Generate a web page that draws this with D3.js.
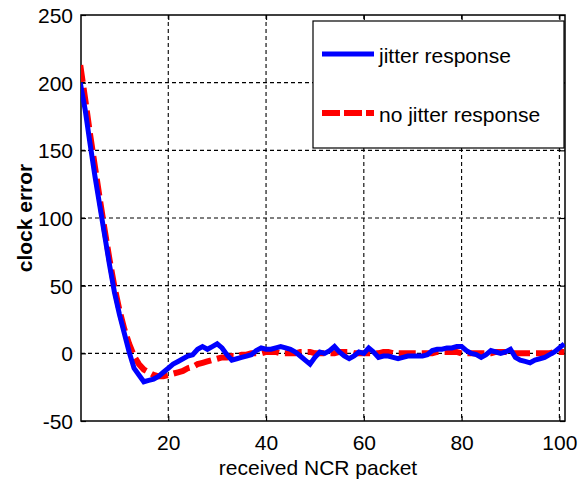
<!DOCTYPE html>
<html>
<head>
<meta charset="utf-8">
<script src="https://cdn.jsdelivr.net/npm/d3@7"></script>
<style>
  body { margin: 0; background: #fff; }
  text { font-family: Arial, "Liberation Sans", sans-serif; fill: #000; }
  .grid line { stroke: #000; stroke-width: 1.1; stroke-dasharray: 4,3; }
</style>
</head>
<body>
<div id="chart"></div>
<script>
// received NCR packet index
let packets = d3.range(2, 102);

let jitterResponse = [
    200, 180, 155, 131, 109, 87, 65, 45, 29, 15,
    1, -11, -16, -21, -20, -19, -17, -14, -11, -8,
    -6, -4, -2, -1, 3, 5, 3, 5, 7, 4,
    -1, -5, -4, -3, -2, -1, 2, 4, 3, 3,
    4, 5, 4, 3, 1, -2, -5, -8, -3, 1,
    0, 2, 5, 1, -2, -4, -2, 1, 0, 4,
    1, -3, -2, -2, -3, -4, -3, -2, -2, -2,
    -2, -1, 2, 3, 3, 4, 4, 5, 5, 2,
    0, -1, -3, -1, 2, 1, 0, 1, 3, -3,
    -5, -6, -7, -5, -4, -3, -1, 1, 4, 7
];

let noJitterResponse = [
    213, 188, 162, 138, 114, 91, 69, 49, 32, 18,
    7, -2, -8, -12, -14, -16, -17, -17, -16, -15,
    -14, -13, -11, -10, -8, -7, -6, -5, -4, -3,
    -3, -2, -2, -1, -1, 0,
    0, 0, 1, 1, 1, 0, 0, 0,
    0, 1, 1, 1, 0, 0, 0, 0,
    0, 1, 1, 1, 0, 0, 0, 0,
    0, 0, 1, 1, 0, 0, 0, 0,
    0, 0, 0, 0, 0, 1, 1, 1,
    1, 1, 0, 0, 0, 0, 0, 0,
    0, 1, 1, 1, 0, 0, 0, 0,
    0, 0, 0, 0, 0, 1, 1, 1
];

let xTicks = [20, 40, 60, 80, 100];
let yTicks = [-50, 0, 50, 100, 150, 200, 250];
let legendLabels = ['jitter response', 'no jitter response'];

const width = 584, height = 484;
const box = { left: 81, right: 565, top: 15, bottom: 421 };

let svg = d3.select('#chart').append('svg')
    .attr('width', width)
    .attr('height', height);

let xScale = d3.scaleLinear().domain([2.15, 101.15]).range([box.left, box.right]);
let yScale = d3.scaleLinear().domain([-50, 250]).range([box.bottom, box.top]);

svg.append('defs').append('clipPath')
    .attr('id', 'plot-clip')
    .append('rect')
    .attr('x', box.left)
    .attr('y', box.top)
    .attr('width', box.right - box.left)
    .attr('height', box.bottom - box.top);

// dashed grid
let grid = svg.append('g').attr('class', 'grid');
grid.selectAll('.gx')
    .data(xTicks)
    .join('line')
    .attr('class', 'gx')
    .attr('x1', d => xScale(d)).attr('x2', d => xScale(d))
    .attr('y1', box.top).attr('y2', box.bottom);
grid.selectAll('.gy')
    .data(yTicks.filter(d => d > -50 && d < 250))
    .join('line')
    .attr('class', 'gy')
    .attr('x1', box.left).attr('x2', box.right)
    .attr('y1', d => yScale(d)).attr('y2', d => yScale(d));

// axes with inward ticks, matlab style (plain hyphen for negatives)
let plain = function(d) { return String(d); };
let xAxis = d3.axisBottom(xScale).tickValues(xTicks).tickSize(-5).tickPadding(14).tickFormat(plain);
let yAxis = d3.axisLeft(yScale).tickValues(yTicks).tickSize(-5).tickPadding(8).tickFormat(plain);

let gx = svg.append('g')
    .attr('transform', `translate(0, ${box.bottom})`)
    .call(xAxis);
let gy = svg.append('g')
    .attr('transform', `translate(${box.left}, 0)`)
    .call(yAxis);

svg.append('g')
    .attr('transform', `translate(0, ${box.top})`)
    .call(d3.axisTop(xScale).tickValues(xTicks).tickSize(-5).tickFormat(''));
svg.append('g')
    .attr('transform', `translate(${box.right}, 0)`)
    .call(d3.axisRight(yScale).tickValues(yTicks).tickSize(-5).tickFormat(''));

svg.selectAll('.domain').remove();
svg.selectAll('.tick line').attr('stroke', '#000').attr('stroke-width', 1.2);

[gx, gy].forEach(function(g) {
    g.selectAll('text')
        .style('font-size', '21px')
        .style('font-family', 'Arial, "Liberation Sans", sans-serif')
        .attr('fill', '#000');
});
gy.selectAll('text').attr('dy', '0.36em');

svg.append('rect')
    .attr('x', box.left)
    .attr('y', box.top)
    .attr('width', box.right - box.left)
    .attr('height', box.bottom - box.top)
    .attr('fill', 'none')
    .attr('stroke', '#000')
    .attr('stroke-width', 1.5);

// curves
let line = d3.line()
    .x(function(d) { return xScale(d[0]); })
    .y(function(d) { return yScale(d[1]); });

let plot = svg.append('g').attr('clip-path', 'url(#plot-clip)');

plot.append('path')
    .datum(packets.map((p, i) => [p, noJitterResponse[i]]))
    .attr('d', line)
    .attr('fill', 'none')
    .attr('stroke', '#ff0000')
    .attr('stroke-width', 6)
    .attr('stroke-dasharray', '17,6');

plot.append('path')
    .datum(packets.map((p, i) => [p, jitterResponse[i]]))
    .attr('d', line)
    .attr('fill', 'none')
    .attr('stroke', '#0000ff')
    .attr('stroke-width', 5)
    .attr('stroke-linejoin', 'miter');

// legend
let legend = svg.append('g');
legend.append('rect')
    .attr('x', 313)
    .attr('y', 21)
    .attr('width', 251)
    .attr('height', 127)
    .attr('fill', '#fff')
    .attr('stroke', '#000')
    .attr('stroke-width', 1.2);

let legendStyles = [
    { color: '#0000ff', width: 5, dash: null, y: 54 },
    { color: '#ff0000', width: 6, dash: '18,4', y: 113 }
];

legendLabels.forEach(function(label, i) {
    let s = legendStyles[i];
    legend.append('line')
        .attr('x1', 322).attr('x2', 374)
        .attr('y1', s.y).attr('y2', s.y)
        .attr('stroke', s.color)
        .attr('stroke-width', s.width)
        .attr('stroke-dasharray', s.dash);
    legend.append('text')
        .attr('x', 379)
        .attr('y', s.y + 9)
        .style('font-size', '21px')
        .text(label);
});

// axis titles
svg.append('text')
    .attr('x', (box.left + box.right) / 2 - 5)
    .attr('y', 475)
    .attr('text-anchor', 'middle')
    .style('font-size', '21px')
    .text('received NCR packet');

svg.append('text')
    .attr('transform', `translate(32, ${(box.top + box.bottom) / 2}) rotate(-90)`)
    .attr('text-anchor', 'middle')
    .style('font-size', '21px')
    .style('font-weight', 'bold')
    .text('clock error');
</script>
</body>
</html>
